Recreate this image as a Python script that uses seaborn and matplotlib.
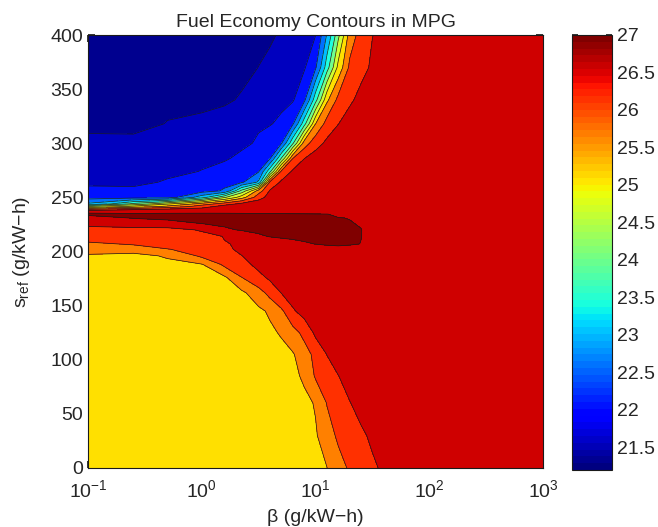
import numpy as np
import matplotlib
matplotlib.use("Agg")
import matplotlib.pyplot as plt
import matplotlib.colors as mcolors
import seaborn as sns

# Grid: exponent of beta (g/kW-h, log10) along x, s_ref (g/kW-h) along y
beta_exp = [-1.0, -0.6, -0.3, 0.0, 0.2, 0.35, 0.5, 0.6, 0.7, 0.8, 0.9, 1.0,
            1.1, 1.2, 1.3, 1.4, 1.5, 1.65, 3.0]
s_ref = [0, 30, 60, 85, 105, 125, 145, 162, 176, 188, 196, 202,
         207, 214, 220, 226, 231, 234.5, 237, 238.5, 241.5, 244,
         250, 256, 264, 274, 286, 300, 318, 340, 370, 400]

# Fuel economy in MPG, one row per s_ref value, one column per beta value
mpg = [
    [25.15, 25.18, 25.20, 25.23, 25.24, 25.25, 25.27, 25.27, 25.28, 25.29, 25.30, 25.37, 25.49, 25.81, 26.07, 26.24, 26.41, 26.71, 26.75],
    [25.18, 25.21, 25.23, 25.24, 25.26, 25.27, 25.28, 25.28, 25.29, 25.29, 25.31, 25.45, 25.79, 26.09, 26.25, 26.41, 26.60, 26.75, 26.75],
    [25.21, 25.23, 25.25, 25.26, 25.27, 25.28, 25.28, 25.29, 25.29, 25.30, 25.38, 25.54, 26.02, 26.25, 26.48, 26.69, 26.75, 26.75, 26.75],
    [25.24, 25.25, 25.26, 25.27, 25.28, 25.29, 25.29, 25.30, 25.30, 25.39, 25.58, 26.06, 26.28, 26.49, 26.70, 26.75, 26.75, 26.75, 26.75],
    [25.26, 25.27, 25.28, 25.28, 25.29, 25.29, 25.30, 25.30, 25.32, 25.46, 25.77, 26.16, 26.51, 26.72, 26.75, 26.75, 26.75, 26.75, 26.75],
    [25.28, 25.29, 25.29, 25.29, 25.30, 25.30, 25.30, 25.40, 25.56, 25.81, 26.15, 26.60, 26.75, 26.75, 26.75, 26.75, 26.75, 26.75, 26.75],
    [25.30, 25.30, 25.30, 25.30, 25.30, 25.30, 25.40, 25.58, 25.91, 26.44, 26.69, 26.75, 26.75, 26.75, 26.75, 26.75, 26.75, 26.75, 26.75],
    [25.32, 25.31, 25.31, 25.30, 25.30, 25.41, 25.81, 26.18, 26.52, 26.73, 26.75, 26.75, 26.75, 26.75, 26.75, 26.75, 26.75, 26.75, 26.75],
    [25.34, 25.32, 25.31, 25.30, 25.43, 25.99, 26.37, 26.59, 26.75, 26.75, 26.75, 26.75, 26.75, 26.75, 26.75, 26.75, 26.75, 26.75, 26.75],
    [25.35, 25.33, 25.31, 25.47, 26.12, 26.36, 26.63, 26.75, 26.75, 26.75, 26.75, 26.75, 26.75, 26.75, 26.75, 26.75, 26.75, 26.75, 26.75],
    [25.45, 25.33, 25.59, 26.11, 26.32, 26.49, 26.75, 26.75, 26.75, 26.75, 26.75, 26.75, 26.75, 26.75, 26.75, 26.75, 26.75, 26.75, 26.75],
    [25.67, 25.76, 25.98, 26.24, 26.41, 26.60, 26.75, 26.75, 26.75, 26.75, 26.75, 26.75, 26.75, 26.75, 26.75, 26.75, 26.75, 26.75, 26.75],
    [25.94, 26.05, 26.21, 26.37, 26.47, 26.57, 26.67, 26.74, 26.81, 26.87, 26.94, 27.01, 27.08, 27.14, 27.07, 26.99, 26.80, 26.80, 26.75],
    [26.19, 26.23, 26.26, 26.30, 26.53, 26.74, 26.95, 27.02, 27.06, 27.09, 27.13, 27.14, 27.11, 27.07, 27.04, 27.01, 26.82, 26.80, 26.75],
    [26.38, 26.34, 26.31, 26.57, 26.95, 27.03, 27.07, 27.09, 27.12, 27.15, 27.13, 27.10, 27.08, 27.05, 27.03, 27.01, 26.83, 26.80, 26.75],
    [26.61, 26.78, 26.90, 27.01, 27.06, 27.09, 27.12, 27.14, 27.14, 27.12, 27.10, 27.08, 27.06, 27.04, 27.02, 26.97, 26.80, 26.79, 26.75],
    [26.89, 27.02, 27.06, 27.11, 27.14, 27.14, 27.12, 27.10, 27.09, 27.07, 27.06, 27.04, 27.03, 27.01, 26.99, 26.80, 26.80, 26.79, 26.75],
    [27.06, 27.09, 27.12, 27.14, 27.13, 27.11, 27.09, 27.08, 27.06, 27.05, 27.04, 27.02, 27.01, 26.93, 26.80, 26.80, 26.79, 26.79, 26.75],
    [26.90, 26.75, 26.75, 26.75, 26.75, 26.75, 26.75, 26.75, 26.75, 26.75, 26.75, 26.75, 26.75, 26.75, 26.75, 26.75, 26.75, 26.75, 26.75],
    [26.21, 26.58, 26.75, 26.75, 26.75, 26.75, 26.75, 26.75, 26.75, 26.75, 26.75, 26.75, 26.75, 26.75, 26.75, 26.75, 26.75, 26.75, 26.75],
    [24.54, 25.18, 25.66, 26.29, 26.75, 26.75, 26.75, 26.75, 26.75, 26.75, 26.75, 26.75, 26.75, 26.75, 26.75, 26.75, 26.75, 26.75, 26.75],
    [23.08, 24.14, 24.94, 25.73, 26.26, 26.63, 26.75, 26.75, 26.75, 26.75, 26.75, 26.75, 26.75, 26.75, 26.75, 26.75, 26.75, 26.75, 26.75],
    [22.31, 22.30, 22.30, 23.31, 24.44, 25.28, 26.32, 26.68, 26.75, 26.75, 26.75, 26.75, 26.75, 26.75, 26.75, 26.75, 26.75, 26.75, 26.75],
    [22.08, 22.16, 22.23, 22.29, 22.57, 24.16, 25.75, 26.55, 26.75, 26.75, 26.75, 26.75, 26.75, 26.75, 26.75, 26.75, 26.75, 26.75, 26.75],
    [21.94, 21.84, 22.09, 22.25, 22.35, 22.43, 23.10, 26.10, 26.58, 26.75, 26.75, 26.75, 26.75, 26.75, 26.75, 26.75, 26.75, 26.75, 26.75],
    [21.85, 21.82, 21.81, 22.03, 22.20, 22.33, 22.46, 23.88, 26.09, 26.57, 26.75, 26.75, 26.75, 26.75, 26.75, 26.75, 26.75, 26.75, 26.75],
    [21.73, 21.76, 21.78, 21.79, 21.94, 22.14, 22.34, 22.47, 24.04, 25.99, 26.49, 26.70, 26.75, 26.75, 26.75, 26.75, 26.75, 26.75, 26.75],
    [21.60, 21.66, 21.71, 21.75, 21.78, 21.87, 22.09, 22.28, 22.46, 23.92, 25.74, 26.32, 26.60, 26.75, 26.75, 26.75, 26.75, 26.75, 26.75],
    [21.40, 21.32, 21.53, 21.67, 21.77, 21.84, 21.92, 21.97, 22.11, 22.43, 23.80, 25.49, 26.21, 26.49, 26.71, 26.75, 26.75, 26.75, 26.75],
    [21.35, 21.33, 21.32, 21.30, 21.41, 21.57, 21.70, 21.79, 21.87, 21.96, 22.38, 23.82, 25.40, 26.16, 26.42, 26.65, 26.75, 26.75, 26.75],
    [21.27, 21.28, 21.29, 21.29, 21.30, 21.31, 21.51, 21.62, 21.73, 21.84, 21.95, 22.43, 23.77, 25.16, 26.10, 26.35, 26.58, 26.75, 26.75],
    [21.20, 21.23, 21.25, 21.27, 21.28, 21.29, 21.30, 21.43, 21.57, 21.71, 21.86, 21.99, 23.04, 24.38, 25.73, 26.22, 26.49, 26.75, 26.75],
]

# contour levels (MPG) and colorbar ticks
mpg_levels = [21.5, 22.0, 22.5, 23.0, 23.5, 24.0, 24.5, 25.0, 25.5, 26.0, 26.5, 27.0]
cbar_ticks = [21.5, 22.0, 22.5, 23.0, 23.5, 24.0, 24.5, 25.0, 25.5, 26.0, 26.5, 27.0]
cbar_labels = ["21.5", "22", "22.5", "23", "23.5", "24", "24.5", "25", "25.5", "26", "26.5", "27"]

sns.set_theme(style="ticks")
plt.rcParams['font.family'] = ['Liberation Sans', 'DejaVu Sans']
plt.rcParams['mathtext.fontset'] = 'custom'
plt.rcParams['mathtext.rm'] = 'Liberation Sans'
plt.rcParams['mathtext.default'] = 'regular'

fig = plt.figure(figsize=(6.58, 5.27), dpi=100)
ax = fig.add_axes([88/658, 1-468/527, 455/658, 433/527])
cax = fig.add_axes([572/658, 1-470/527, 40/658, 435/527])

# jet shades for each filled band, from the lowest band up to the peak band
band_colors = ["#00008F", "#0000BF", "#0010FF", "#0070FF", "#00BFFF", "#20FFDF",
               "#70FF8F", "#CFFF30", "#FFE000", "#FF8000", "#FF3000", "#CF0000", "#800000"]
fill_levels = [20.9] + mpg_levels + [27.5]

beta = 10.0 ** np.array(beta_exp)
Z = np.array(mpg)
ax.contourf(beta, s_ref, Z, levels=fill_levels, colors=band_colors)
ax.contour(beta, s_ref, Z, levels=mpg_levels, colors='k', linewidths=0.5)

ax.set_xscale('log')
ax.set_xlim(0.1, 1000)
ax.set_ylim(0, 400)
ax.set_yticks(range(0, 401, 50))
ax.tick_params(which='both', direction='in', top=True, right=True, labelsize=14, color='k')
ax.tick_params(which='major', length=5)
ax.tick_params(which='minor', length=3)
ax.tick_params(axis='x', pad=8)
for sp in ax.spines.values():
    sp.set_color('k')
    sp.set_linewidth(0.8)
ax.set_title("Fuel Economy Contours in MPG", fontsize=14)
ax.set_xlabel("β (g/kW−h)", fontsize=14, labelpad=6)
ax.set_ylabel("s$_{ref}$ (g/kW−h)", fontsize=14, labelpad=13)

norm = mcolors.Normalize(vmin=21.2, vmax=27.0)
sm = plt.cm.ScalarMappable(norm=norm, cmap=plt.get_cmap('jet', 64))
cb = fig.colorbar(sm, cax=cax, ticks=cbar_ticks)
cb.ax.set_yticklabels(cbar_labels)
cb.outline.set_edgecolor('k')
cb.outline.set_linewidth(0.8)
cax.tick_params(direction='in', left=True, right=True, labelsize=14, length=4, color='k')

fig.savefig("out.png", dpi=100)
